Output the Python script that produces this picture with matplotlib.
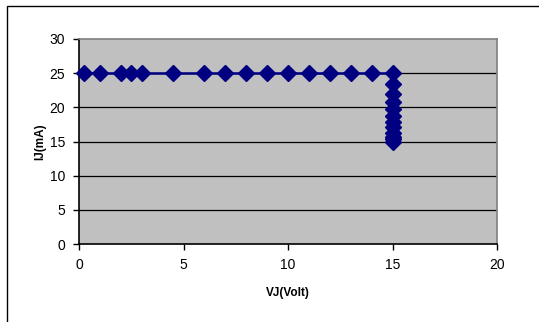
import matplotlib
matplotlib.use("Agg")
import matplotlib.pyplot as plt
from matplotlib.patches import Rectangle

# Measured JFET current-regulator characteristic
vj_volt = [0.25, 1, 2, 2.5, 3, 4.5, 6, 7, 8, 9, 10, 11, 12, 13, 14, 15,
           15, 15, 15, 15, 15, 15, 15, 15, 15, 15, 15]
ij_ma = [25, 25, 25, 25, 25, 25, 25, 25, 25, 25, 25, 25, 25, 25, 25, 25,
         23.4, 22.0, 20.8, 19.8, 18.8, 17.9, 17.1, 16.3, 15.7, 15.3, 15.0]

x_ticks = [0, 5, 10, 15, 20]
y_ticks = [0, 5, 10, 15, 20, 25, 30]

plt.rcParams['font.family'] = ['Liberation Sans', 'DejaVu Sans']

fig = plt.figure(figsize=(5.39, 3.22), dpi=100)
fig.patch.set_facecolor('white')

# Outer chart frame
fig.patches.append(Rectangle((6.5 / 539, -0.05), 1.2, 1 - 5.5 / 322 + 0.05,
                             transform=fig.transFigure, fill=False,
                             edgecolor='black', lw=1.0, zorder=0))

ax = fig.add_axes([79 / 539, 1 - 244 / 322, (497 - 79) / 539, (244 - 39) / 322])
ax.set_facecolor('#C0C0C0')

ax.set_xlim(0, 20)
ax.set_ylim(0, 30)
ax.set_xticks(x_ticks)
ax.set_yticks(y_ticks)
ax.tick_params(axis='both', direction='out', length=4, width=1, color='black',
               labelsize=10, pad=6)

for y in y_ticks[1:-1]:
    ax.axhline(y, color='black', lw=0.9, zorder=1)

ax.spines['left'].set_color('black')
ax.spines['bottom'].set_color('black')
ax.spines['top'].set_color('#808080')
ax.spines['right'].set_color('#808080')
for s in ax.spines.values():
    s.set_linewidth(1.2)

ax.plot(vj_volt, ij_ma, color='#000080', lw=1.8, marker='D', markersize=8.5,
        markerfacecolor='#000080', markeredgecolor='#000080', zorder=3,
        clip_on=False)

ax.set_xlabel('VJ(Volt)', fontsize=8.5, fontweight='bold', labelpad=11)
ax.set_ylabel('IJ(mA)', fontsize=8.5, fontweight='bold', labelpad=2)

fig.savefig('out.png', dpi=100)
